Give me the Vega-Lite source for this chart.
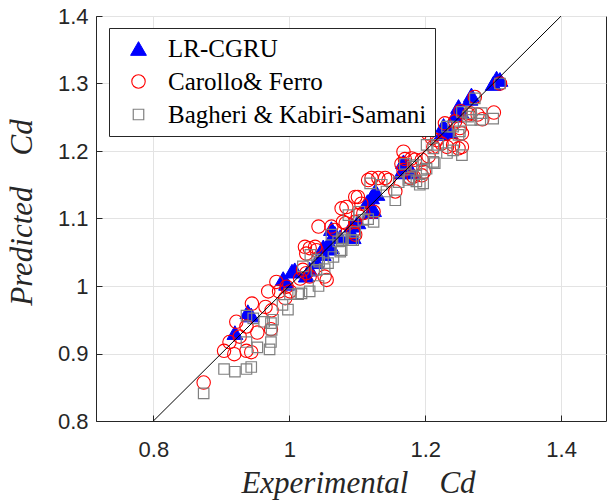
{
  "$schema": "https://vega.github.io/schema/vega-lite/v6.json",
  "width": 510,
  "height": 405,
  "autosize": {"type": "none"},
  "padding": {"left": 96, "top": 16, "right": 1, "bottom": 79},
  "background": "white",
  "config": {
    "view": {"stroke": "#262626", "strokeWidth": 1},
    "axis": {
      "labelFont": "Liberation Sans",
      "labelFontSize": 22,
      "labelColor": "#262626",
      "domainColor": "#262626",
      "tickColor": "#262626",
      "gridColor": "#e3e3e3",
      "gridWidth": 1,
      "tickSize": -6,
      "titleFont": "Liberation Serif",
      "titleFontStyle": "italic",
      "titleFontWeight": "normal",
      "titleFontSize": 31,
      "titleColor": "#262626"
    },
    "legend": {
      "orient": "none",
      "legendX": 13,
      "legendY": 12,
      "labelFont": "Liberation Serif",
      "labelFontSize": 25,
      "labelColor": "black",
      "labelLimit": 400,
      "padding": 8,
      "strokeColor": "#262626",
      "fillColor": "white",
      "rowPadding": 7,
      "symbolOffset": 9,
      "labelOffset": 17
    }
  },
  "datasets": {
    "pts": [
      {"model": "LR-CGRU", "experimental": 0.920, "predicted": 0.931},
      {"model": "LR-CGRU", "experimental": 0.939, "predicted": 0.962},
      {"model": "LR-CGRU", "experimental": 0.944, "predicted": 0.957},
      {"model": "LR-CGRU", "experimental": 0.991, "predicted": 1.011},
      {"model": "LR-CGRU", "experimental": 0.996, "predicted": 1.004},
      {"model": "LR-CGRU", "experimental": 1.004, "predicted": 1.022},
      {"model": "LR-CGRU", "experimental": 1.008, "predicted": 1.024},
      {"model": "LR-CGRU", "experimental": 1.025, "predicted": 1.016},
      {"model": "LR-CGRU", "experimental": 1.030, "predicted": 1.025},
      {"model": "LR-CGRU", "experimental": 1.040, "predicted": 1.036},
      {"model": "LR-CGRU", "experimental": 1.050, "predicted": 1.048},
      {"model": "LR-CGRU", "experimental": 1.050, "predicted": 1.058},
      {"model": "LR-CGRU", "experimental": 1.057, "predicted": 1.056},
      {"model": "LR-CGRU", "experimental": 1.062, "predicted": 1.058},
      {"model": "LR-CGRU", "experimental": 1.058, "predicted": 1.064},
      {"model": "LR-CGRU", "experimental": 1.062, "predicted": 1.085},
      {"model": "LR-CGRU", "experimental": 1.067, "predicted": 1.078},
      {"model": "LR-CGRU", "experimental": 1.075, "predicted": 1.073},
      {"model": "LR-CGRU", "experimental": 1.092, "predicted": 1.078},
      {"model": "LR-CGRU", "experimental": 1.094, "predicted": 1.073},
      {"model": "LR-CGRU", "experimental": 1.092, "predicted": 1.090},
      {"model": "LR-CGRU", "experimental": 1.101, "predicted": 1.095},
      {"model": "LR-CGRU", "experimental": 1.119, "predicted": 1.110},
      {"model": "LR-CGRU", "experimental": 1.124, "predicted": 1.113},
      {"model": "LR-CGRU", "experimental": 1.115, "predicted": 1.125},
      {"model": "LR-CGRU", "experimental": 1.121, "predicted": 1.132},
      {"model": "LR-CGRU", "experimental": 1.126, "predicted": 1.140},
      {"model": "LR-CGRU", "experimental": 1.129, "predicted": 1.137},
      {"model": "LR-CGRU", "experimental": 1.165, "predicted": 1.169},
      {"model": "LR-CGRU", "experimental": 1.168, "predicted": 1.184},
      {"model": "LR-CGRU", "experimental": 1.175, "predicted": 1.178},
      {"model": "LR-CGRU", "experimental": 1.180, "predicted": 1.169},
      {"model": "LR-CGRU", "experimental": 1.224, "predicted": 1.226},
      {"model": "LR-CGRU", "experimental": 1.227, "predicted": 1.238},
      {"model": "LR-CGRU", "experimental": 1.236, "predicted": 1.229},
      {"model": "LR-CGRU", "experimental": 1.244, "predicted": 1.253},
      {"model": "LR-CGRU", "experimental": 1.249, "predicted": 1.266},
      {"model": "LR-CGRU", "experimental": 1.253, "predicted": 1.258},
      {"model": "LR-CGRU", "experimental": 1.266, "predicted": 1.278},
      {"model": "LR-CGRU", "experimental": 1.268, "predicted": 1.283},
      {"model": "LR-CGRU", "experimental": 1.300, "predicted": 1.300},
      {"model": "LR-CGRU", "experimental": 1.305, "predicted": 1.308},
      {"model": "LR-CGRU", "experimental": 1.310, "predicted": 1.306},

      {"model": "Carollo& Ferro", "experimental": 0.874, "predicted": 0.857},
      {"model": "Carollo& Ferro", "experimental": 0.904, "predicted": 0.904},
      {"model": "Carollo& Ferro", "experimental": 0.919, "predicted": 0.899},
      {"model": "Carollo& Ferro", "experimental": 0.937, "predicted": 0.904},
      {"model": "Carollo& Ferro", "experimental": 0.944, "predicted": 0.902},
      {"model": "Carollo& Ferro", "experimental": 0.912, "predicted": 0.917},
      {"model": "Carollo& Ferro", "experimental": 0.927, "predicted": 0.925},
      {"model": "Carollo& Ferro", "experimental": 0.953, "predicted": 0.931},
      {"model": "Carollo& Ferro", "experimental": 0.973, "predicted": 0.936},
      {"model": "Carollo& Ferro", "experimental": 0.922, "predicted": 0.947},
      {"model": "Carollo& Ferro", "experimental": 0.937, "predicted": 0.940},
      {"model": "Carollo& Ferro", "experimental": 0.945, "predicted": 0.974},
      {"model": "Carollo& Ferro", "experimental": 0.965, "predicted": 0.969},
      {"model": "Carollo& Ferro", "experimental": 0.974, "predicted": 0.964},
      {"model": "Carollo& Ferro", "experimental": 0.969, "predicted": 0.992},
      {"model": "Carollo& Ferro", "experimental": 0.985, "predicted": 0.992},
      {"model": "Carollo& Ferro", "experimental": 0.981, "predicted": 1.006},
      {"model": "Carollo& Ferro", "experimental": 0.994, "predicted": 0.982},
      {"model": "Carollo& Ferro", "experimental": 0.996, "predicted": 0.999},
      {"model": "Carollo& Ferro", "experimental": 1.001, "predicted": 0.992},
      {"model": "Carollo& Ferro", "experimental": 1.016, "predicted": 1.011},
      {"model": "Carollo& Ferro", "experimental": 1.030, "predicted": 1.014},
      {"model": "Carollo& Ferro", "experimental": 1.020, "predicted": 1.024},
      {"model": "Carollo& Ferro", "experimental": 1.025, "predicted": 1.019},
      {"model": "Carollo& Ferro", "experimental": 1.052, "predicted": 1.014},
      {"model": "Carollo& Ferro", "experimental": 1.055, "predicted": 1.009},
      {"model": "Carollo& Ferro", "experimental": 1.023, "predicted": 1.058},
      {"model": "Carollo& Ferro", "experimental": 1.025, "predicted": 1.048},
      {"model": "Carollo& Ferro", "experimental": 1.030, "predicted": 1.056},
      {"model": "Carollo& Ferro", "experimental": 1.038, "predicted": 1.058},
      {"model": "Carollo& Ferro", "experimental": 1.040, "predicted": 1.053},
      {"model": "Carollo& Ferro", "experimental": 1.043, "predicted": 1.088},
      {"model": "Carollo& Ferro", "experimental": 1.062, "predicted": 1.088},
      {"model": "Carollo& Ferro", "experimental": 1.067, "predicted": 1.083},
      {"model": "Carollo& Ferro", "experimental": 1.079, "predicted": 1.095},
      {"model": "Carollo& Ferro", "experimental": 1.094, "predicted": 1.080},
      {"model": "Carollo& Ferro", "experimental": 1.097, "predicted": 1.076},
      {"model": "Carollo& Ferro", "experimental": 1.083, "predicted": 1.093},
      {"model": "Carollo& Ferro", "experimental": 1.097, "predicted": 1.095},
      {"model": "Carollo& Ferro", "experimental": 1.101, "predicted": 1.105},
      {"model": "Carollo& Ferro", "experimental": 1.109, "predicted": 1.108},
      {"model": "Carollo& Ferro", "experimental": 1.124, "predicted": 1.110},
      {"model": "Carollo& Ferro", "experimental": 1.077, "predicted": 1.115},
      {"model": "Carollo& Ferro", "experimental": 1.084, "predicted": 1.117},
      {"model": "Carollo& Ferro", "experimental": 1.097, "predicted": 1.132},
      {"model": "Carollo& Ferro", "experimental": 1.101, "predicted": 1.132},
      {"model": "Carollo& Ferro", "experimental": 1.106, "predicted": 1.122},
      {"model": "Carollo& Ferro", "experimental": 1.116, "predicted": 1.157},
      {"model": "Carollo& Ferro", "experimental": 1.121, "predicted": 1.160},
      {"model": "Carollo& Ferro", "experimental": 1.131, "predicted": 1.160},
      {"model": "Carollo& Ferro", "experimental": 1.141, "predicted": 1.160},
      {"model": "Carollo& Ferro", "experimental": 1.146, "predicted": 1.157},
      {"model": "Carollo& Ferro", "experimental": 1.156, "predicted": 1.140},
      {"model": "Carollo& Ferro", "experimental": 1.165, "predicted": 1.181},
      {"model": "Carollo& Ferro", "experimental": 1.170, "predicted": 1.188},
      {"model": "Carollo& Ferro", "experimental": 1.168, "predicted": 1.199},
      {"model": "Carollo& Ferro", "experimental": 1.180, "predicted": 1.189},
      {"model": "Carollo& Ferro", "experimental": 1.185, "predicted": 1.187},
      {"model": "Carollo& Ferro", "experimental": 1.195, "predicted": 1.187},
      {"model": "Carollo& Ferro", "experimental": 1.205, "predicted": 1.192},
      {"model": "Carollo& Ferro", "experimental": 1.168, "predicted": 1.172},
      {"model": "Carollo& Ferro", "experimental": 1.178, "predicted": 1.160},
      {"model": "Carollo& Ferro", "experimental": 1.183, "predicted": 1.162},
      {"model": "Carollo& Ferro", "experimental": 1.195, "predicted": 1.164},
      {"model": "Carollo& Ferro", "experimental": 1.198, "predicted": 1.169},
      {"model": "Carollo& Ferro", "experimental": 1.202, "predicted": 1.231},
      {"model": "Carollo& Ferro", "experimental": 1.204, "predicted": 1.226},
      {"model": "Carollo& Ferro", "experimental": 1.210, "predicted": 1.219},
      {"model": "Carollo& Ferro", "experimental": 1.217, "predicted": 1.216},
      {"model": "Carollo& Ferro", "experimental": 1.212, "predicted": 1.206},
      {"model": "Carollo& Ferro", "experimental": 1.224, "predicted": 1.211},
      {"model": "Carollo& Ferro", "experimental": 1.232, "predicted": 1.206},
      {"model": "Carollo& Ferro", "experimental": 1.241, "predicted": 1.209},
      {"model": "Carollo& Ferro", "experimental": 1.249, "predicted": 1.204},
      {"model": "Carollo& Ferro", "experimental": 1.254, "predicted": 1.206},
      {"model": "Carollo& Ferro", "experimental": 1.229, "predicted": 1.241},
      {"model": "Carollo& Ferro", "experimental": 1.244, "predicted": 1.244},
      {"model": "Carollo& Ferro", "experimental": 1.251, "predicted": 1.234},
      {"model": "Carollo& Ferro", "experimental": 1.254, "predicted": 1.226},
      {"model": "Carollo& Ferro", "experimental": 1.252, "predicted": 1.259},
      {"model": "Carollo& Ferro", "experimental": 1.264, "predicted": 1.254},
      {"model": "Carollo& Ferro", "experimental": 1.266, "predicted": 1.256},
      {"model": "Carollo& Ferro", "experimental": 1.277, "predicted": 1.254},
      {"model": "Carollo& Ferro", "experimental": 1.284, "predicted": 1.247},
      {"model": "Carollo& Ferro", "experimental": 1.301, "predicted": 1.257},
      {"model": "Carollo& Ferro", "experimental": 1.273, "predicted": 1.280},
      {"model": "Carollo& Ferro", "experimental": 1.310, "predicted": 1.300},

      {"model": "Bagheri & Kabiri-Samani", "experimental": 0.874, "predicted": 0.841},
      {"model": "Bagheri & Kabiri-Samani", "experimental": 0.904, "predicted": 0.877},
      {"model": "Bagheri & Kabiri-Samani", "experimental": 0.920, "predicted": 0.873},
      {"model": "Bagheri & Kabiri-Samani", "experimental": 0.937, "predicted": 0.877},
      {"model": "Bagheri & Kabiri-Samani", "experimental": 0.944, "predicted": 0.880},
      {"model": "Bagheri & Kabiri-Samani", "experimental": 0.937, "predicted": 0.917},
      {"model": "Bagheri & Kabiri-Samani", "experimental": 0.953, "predicted": 0.909},
      {"model": "Bagheri & Kabiri-Samani", "experimental": 0.973, "predicted": 0.917},
      {"model": "Bagheri & Kabiri-Samani", "experimental": 0.971, "predicted": 0.906},
      {"model": "Bagheri & Kabiri-Samani", "experimental": 0.937, "predicted": 0.956},
      {"model": "Bagheri & Kabiri-Samani", "experimental": 0.947, "predicted": 0.952},
      {"model": "Bagheri & Kabiri-Samani", "experimental": 0.963, "predicted": 0.947},
      {"model": "Bagheri & Kabiri-Samani", "experimental": 0.973, "predicted": 0.945},
      {"model": "Bagheri & Kabiri-Samani", "experimental": 0.974, "predicted": 0.935},
      {"model": "Bagheri & Kabiri-Samani", "experimental": 0.976, "predicted": 0.950},
      {"model": "Bagheri & Kabiri-Samani", "experimental": 0.998, "predicted": 0.965},
      {"model": "Bagheri & Kabiri-Samani", "experimental": 0.990, "predicted": 0.972},
      {"model": "Bagheri & Kabiri-Samani", "experimental": 1.001, "predicted": 0.988},
      {"model": "Bagheri & Kabiri-Samani", "experimental": 1.013, "predicted": 0.988},
      {"model": "Bagheri & Kabiri-Samani", "experimental": 1.018, "predicted": 0.989},
      {"model": "Bagheri & Kabiri-Samani", "experimental": 1.030, "predicted": 0.992},
      {"model": "Bagheri & Kabiri-Samani", "experimental": 1.043, "predicted": 1.000},
      {"model": "Bagheri & Kabiri-Samani", "experimental": 1.020, "predicted": 1.029},
      {"model": "Bagheri & Kabiri-Samani", "experimental": 1.040, "predicted": 1.024},
      {"model": "Bagheri & Kabiri-Samani", "experimental": 1.052, "predicted": 1.025},
      {"model": "Bagheri & Kabiri-Samani", "experimental": 1.031, "predicted": 1.046},
      {"model": "Bagheri & Kabiri-Samani", "experimental": 1.041, "predicted": 1.039},
      {"model": "Bagheri & Kabiri-Samani", "experimental": 1.044, "predicted": 1.036},
      {"model": "Bagheri & Kabiri-Samani", "experimental": 1.057, "predicted": 1.034},
      {"model": "Bagheri & Kabiri-Samani", "experimental": 1.065, "predicted": 1.043},
      {"model": "Bagheri & Kabiri-Samani", "experimental": 1.075, "predicted": 1.051},
      {"model": "Bagheri & Kabiri-Samani", "experimental": 1.062, "predicted": 1.076},
      {"model": "Bagheri & Kabiri-Samani", "experimental": 1.072, "predicted": 1.066},
      {"model": "Bagheri & Kabiri-Samani", "experimental": 1.077, "predicted": 1.068},
      {"model": "Bagheri & Kabiri-Samani", "experimental": 1.091, "predicted": 1.068},
      {"model": "Bagheri & Kabiri-Samani", "experimental": 1.077, "predicted": 1.053},
      {"model": "Bagheri & Kabiri-Samani", "experimental": 1.079, "predicted": 1.071},
      {"model": "Bagheri & Kabiri-Samani", "experimental": 1.094, "predicted": 1.068},
      {"model": "Bagheri & Kabiri-Samani", "experimental": 1.097, "predicted": 1.080},
      {"model": "Bagheri & Kabiri-Samani", "experimental": 1.109, "predicted": 1.098},
      {"model": "Bagheri & Kabiri-Samani", "experimental": 1.116, "predicted": 1.099},
      {"model": "Bagheri & Kabiri-Samani", "experimental": 1.124, "predicted": 1.095},
      {"model": "Bagheri & Kabiri-Samani", "experimental": 1.087, "predicted": 1.105},
      {"model": "Bagheri & Kabiri-Samani", "experimental": 1.103, "predicted": 1.110},
      {"model": "Bagheri & Kabiri-Samani", "experimental": 1.119, "predicted": 1.152},
      {"model": "Bagheri & Kabiri-Samani", "experimental": 1.136, "predicted": 1.150},
      {"model": "Bagheri & Kabiri-Samani", "experimental": 1.143, "predicted": 1.140},
      {"model": "Bagheri & Kabiri-Samani", "experimental": 1.156, "predicted": 1.127},
      {"model": "Bagheri & Kabiri-Samani", "experimental": 1.161, "predicted": 1.154},
      {"model": "Bagheri & Kabiri-Samani", "experimental": 1.170, "predicted": 1.181},
      {"model": "Bagheri & Kabiri-Samani", "experimental": 1.177, "predicted": 1.160},
      {"model": "Bagheri & Kabiri-Samani", "experimental": 1.187, "predicted": 1.155},
      {"model": "Bagheri & Kabiri-Samani", "experimental": 1.182, "predicted": 1.177},
      {"model": "Bagheri & Kabiri-Samani", "experimental": 1.187, "predicted": 1.179},
      {"model": "Bagheri & Kabiri-Samani", "experimental": 1.195, "predicted": 1.172},
      {"model": "Bagheri & Kabiri-Samani", "experimental": 1.202, "predicted": 1.174},
      {"model": "Bagheri & Kabiri-Samani", "experimental": 1.212, "predicted": 1.184},
      {"model": "Bagheri & Kabiri-Samani", "experimental": 1.214, "predicted": 1.182},
      {"model": "Bagheri & Kabiri-Samani", "experimental": 1.175, "predicted": 1.157},
      {"model": "Bagheri & Kabiri-Samani", "experimental": 1.192, "predicted": 1.150},
      {"model": "Bagheri & Kabiri-Samani", "experimental": 1.197, "predicted": 1.152},
      {"model": "Bagheri & Kabiri-Samani", "experimental": 1.202, "predicted": 1.209},
      {"model": "Bagheri & Kabiri-Samani", "experimental": 1.212, "predicted": 1.204},
      {"model": "Bagheri & Kabiri-Samani", "experimental": 1.219, "predicted": 1.209},
      {"model": "Bagheri & Kabiri-Samani", "experimental": 1.232, "predicted": 1.197},
      {"model": "Bagheri & Kabiri-Samani", "experimental": 1.241, "predicted": 1.201},
      {"model": "Bagheri & Kabiri-Samani", "experimental": 1.254, "predicted": 1.194},
      {"model": "Bagheri & Kabiri-Samani", "experimental": 1.232, "predicted": 1.236},
      {"model": "Bagheri & Kabiri-Samani", "experimental": 1.241, "predicted": 1.236},
      {"model": "Bagheri & Kabiri-Samani", "experimental": 1.251, "predicted": 1.229},
      {"model": "Bagheri & Kabiri-Samani", "experimental": 1.249, "predicted": 1.224},
      {"model": "Bagheri & Kabiri-Samani", "experimental": 1.254, "predicted": 1.258},
      {"model": "Bagheri & Kabiri-Samani", "experimental": 1.263, "predicted": 1.251},
      {"model": "Bagheri & Kabiri-Samani", "experimental": 1.268, "predicted": 1.246},
      {"model": "Bagheri & Kabiri-Samani", "experimental": 1.266, "predicted": 1.256},
      {"model": "Bagheri & Kabiri-Samani", "experimental": 1.283, "predicted": 1.256},
      {"model": "Bagheri & Kabiri-Samani", "experimental": 1.300, "predicted": 1.248},
      {"model": "Bagheri & Kabiri-Samani", "experimental": 1.281, "predicted": 1.246},
      {"model": "Bagheri & Kabiri-Samani", "experimental": 1.273, "predicted": 1.278},
      {"model": "Bagheri & Kabiri-Samani", "experimental": 1.310, "predicted": 1.300}
    ],
    "diag": [
      {"experimental": 0.8, "predicted": 0.8},
      {"experimental": 1.4, "predicted": 1.4}
    ]
  },
  "layer": [
    {
      "data": {"name": "pts"},
      "mark": {"type": "point", "filled": false, "clip": true, "opacity": 1},
      "encoding": {
        "x": {
          "field": "experimental", "type": "quantitative",
          "scale": {"domain": [0.7156, 1.466], "nice": false, "zero": false},
          "axis": {
            "values": [0.8, 1, 1.2, 1.4], "format": "~g",
            "labelPadding": 24,
            "title": "Experimental\u00a0\u00a0\u00a0\u00a0Cd",
            "titleX": 262, "titleY": 71, "titleAlign": "center", "titleBaseline": "alphabetic"
          }
        },
        "y": {
          "field": "predicted", "type": "quantitative",
          "scale": {"domain": [0.8, 1.4], "nice": false, "zero": false},
          "axis": {
            "values": [0.8, 0.9, 1, 1.1, 1.2, 1.3, 1.4], "format": "~g",
            "labelPadding": 14,
            "title": "Predicted\u00a0\u00a0\u00a0\u00a0Cd",
            "titleX": -65, "titleY": 196, "titleAngle": 270, "titleAlign": "center", "titleBaseline": "alphabetic"
          }
        },
        "shape": {
          "field": "model", "type": "nominal",
          "scale": {"domain": ["LR-CGRU", "Carollo& Ferro", "Bagheri & Kabiri-Samani"], "range": ["triangle-up", "circle", "square"]},
          "legend": {"title": null}
        },
        "stroke": {
          "field": "model", "type": "nominal",
          "scale": {"domain": ["LR-CGRU", "Carollo& Ferro", "Bagheri & Kabiri-Samani"], "range": ["#0000ff", "#ff0000", "#808080"]},
          "legend": {"title": null}
        },
        "fill": {
          "field": "model", "type": "nominal",
          "scale": {"domain": ["LR-CGRU", "Carollo& Ferro", "Bagheri & Kabiri-Samani"], "range": ["#0000ff", "transparent", "transparent"]},
          "legend": {"title": null}
        },
        "size": {
          "field": "model", "type": "nominal",
          "scale": {"domain": ["LR-CGRU", "Carollo& Ferro", "Bagheri & Kabiri-Samani"], "range": [250, 110, 85]},
          "legend": {"title": null}
        },
        "strokeWidth": {
          "field": "model", "type": "nominal",
          "scale": {"domain": ["LR-CGRU", "Carollo& Ferro", "Bagheri & Kabiri-Samani"], "range": [1, 1.2, 1.5]},
          "legend": {"title": null}
        }
      }
    },
    {
      "data": {"name": "diag"},
      "mark": {"type": "line", "color": "black", "strokeWidth": 1, "clip": true},
      "encoding": {
        "x": {"field": "experimental", "type": "quantitative"},
        "y": {"field": "predicted", "type": "quantitative"}
      }
    }
  ]
}
